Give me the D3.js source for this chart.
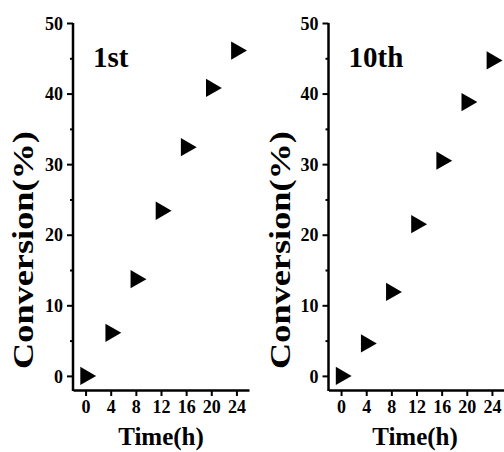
<!DOCTYPE html>
<html>
<head>
<meta charset="utf-8">
<script src="https://cdn.jsdelivr.net/npm/d3@7"></script>
<style>
  body { margin: 0; background: #fff; }
  text { font-family: "Liberation Serif", "Times New Roman", serif; font-weight: bold; fill: #000; }
</style>
</head>
<body>
<div id="chart"></div>
<script>
var hours = [0, 4, 8, 12, 16, 20, 24];
var conv1st = [0, 6.1, 13.7, 23.4, 32.4, 40.8, 46.1];
var conv10th = [0, 4.6, 11.9, 21.5, 30.5, 38.8, 44.7];
var yTicks = [0, 10, 20, 30, 40, 50];
var yMinor = [5, 15, 25, 35, 45];
var xTicks = [0, 4, 8, 12, 16, 20, 24];

var w = 504, h = 452;
var svg = d3.select("#chart").append("svg")
  .attr("width", w)
  .attr("height", h);

function drawPanel(left, values, label, titleX, timeX) {
  var width = 176;
  var x = d3.scaleLinear().domain([-2, 26]).range([left, left + width]);
  var y = d3.scaleLinear().domain([-2, 50]).range([390, 23]);
  var g = svg.append("g");

  // y axis, major ticks with labels
  var yAxis = g.append("g")
    .attr("transform", "translate(" + left + ",0)")
    .call(d3.axisLeft(y).tickValues(yTicks).tickSize(6).tickPadding(4).tickSizeOuter(0));
  // minor ticks
  g.append("g")
    .attr("transform", "translate(" + left + ",0)")
    .call(d3.axisLeft(y).tickValues(yMinor).tickSize(3).tickFormat("").tickSizeOuter(0))
    .select(".domain").remove();

  var xAxis = g.append("g")
    .attr("transform", "translate(0,390)")
    .call(d3.axisBottom(x).tickValues(xTicks).tickSize(6).tickPadding(4).tickSizeOuter(0));

  g.selectAll(".domain").attr("stroke", "#000").attr("stroke-width", 2.5);
  g.selectAll(".tick line").attr("stroke", "#000").attr("stroke-width", 2);
  g.selectAll(".tick text").attr("font-size", 18).attr("font-family", null);
  yAxis.selectAll(".tick text").attr("dy", "0.34em");
  // keep the y axis down to the x axis line
  yAxis.select(".domain").attr("d", "M0," + y(50) + "V" + 391);

  g.selectAll("path.pt")
    .data(values)
    .enter().append("path")
    .attr("class", "pt")
    .attr("d", d3.symbol().type(d3.symbolTriangle).size(145))
    .attr("transform", function(d, i) {
      return "translate(" + x(hours[i]) + "," + y(d) + ") rotate(90)";
    })
    .attr("fill", "#000");

  g.append("text")
    .attr("x", left + 20)
    .attr("y", 67)
    .attr("font-size", 29)
    .text(label);

  // the title is stretched along its length in the original
  var title = g.append("text")
    .attr("text-anchor", "middle")
    .attr("font-size", 28.5)
    .text("Conversion(%)");
  var k = 238 / title.node().getComputedTextLength();
  title.attr("transform", "translate(" + titleX + ",250) rotate(-90) scale(" + k + ",1)");

  g.append("text")
    .attr("x", timeX)
    .attr("y", 445)
    .attr("text-anchor", "middle")
    .attr("font-size", 25)
    .text("Time(h)");
}

drawPanel(73, conv1st, "1st", 33, 161);
drawPanel(328.5, conv10th, "10th", 290, 415);
</script>
</body>
</html>
